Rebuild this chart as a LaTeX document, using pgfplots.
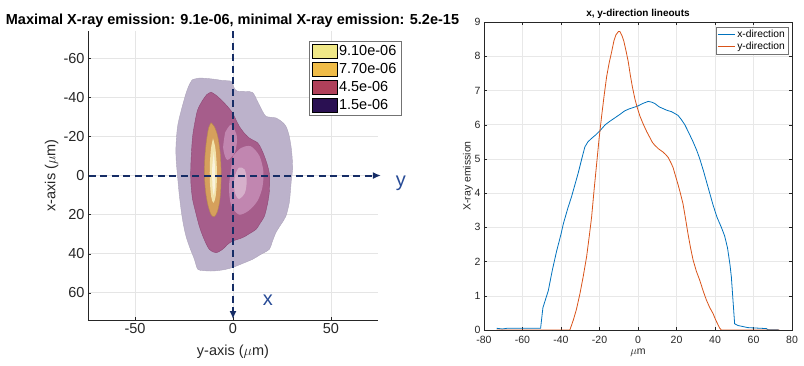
\documentclass[border=0pt]{standalone}
\usepackage{fontspec}
\setmainfont{Liberation Sans}
\usepackage{pgfplots}
\pgfplotsset{compat=1.18}
\usetikzlibrary{arrows.meta}
\definecolor{lgyel}{RGB}{240,232,135}
\definecolor{lgora}{RGB}{240,188,72}
\definecolor{lgred}{RGB}{176,64,90}
\definecolor{lgpur}{RGB}{42,16,82}
\definecolor{lav}{RGB}{188,178,203}
\definecolor{mag}{RGB}{166,93,139}
\definecolor{magd}{RGB}{142,72,116}
\definecolor{pinkhl}{RGB}{228,185,222}
\definecolor{blob}{RGB}{214,160,92}
\definecolor{core}{RGB}{242,226,170}
\definecolor{navy}{RGB}{22,45,102}
\definecolor{lblue}{RGB}{40,75,150}
\definecolor{mblue}{RGB}{0,114,189}
\definecolor{morange}{RGB}{217,83,25}
\definecolor{axgray}{RGB}{38,38,38}
\begin{document}
\begin{tikzpicture}[x=1pt,y=1pt]
\path[use as bounding box] (0,0) rectangle (804,365);
% ---------------- left panel ----------------
\begin{axis}[
  at={(233pt,189.5pt)}, anchor=center,
  scale only axis, width=290pt, height=289pt,
  xmin=-74, xmax=74, ymin=-74, ymax=74, y dir=reverse,
  clip=false,
  axis x line*=bottom, axis y line*=left,
  axis line style={-, axgray},
  xtick={-50,0,50}, ytick={-60,-40,-20,0,20,40,60},
  tick align=inside, major tick length=3pt,
  tick style={axgray},
  grid=major, grid style={black!10, line width=0.4pt},
  /pgf/number format/assume math mode=true,
  ticklabel style={font=\fontsize{14.5}{17}\selectfont, text=axgray},
  xlabel={y-axis ($\mu$m)}, ylabel={x-axis ($\mu$m)},
  every axis x label/.style={at={(axis description cs:0.5,-0.11)}, anchor=center, font=\fontsize{14.5}{17}\selectfont, text=axgray},
  every axis y label/.style={at={(axis description cs:-0.125,0.5)}, anchor=center, rotate=90, font=\fontsize{14.5}{17}\selectfont, text=axgray},
  legend style={at={(axis description cs:0.762,0.965)}, anchor=north west,
    font=\fontsize{14.5}{17}\selectfont, draw=black!55, inner sep=2.5pt,
    row sep=2.2pt},
  legend cell align=left,
  legend image code/.code={\fill[#1] (0pt,-7pt) rectangle (25pt,7pt);},
]
\addplot[fill=lav, draw=lav!92!black, smooth, forget plot] coordinates {
(-20.8,-49) (-17.2,-49.9) (-10.4,-49.4) (-5,-48.6) (-1,-48.2) (0.5,-45) (2,-43.3) (6.6,-43) (10,-42.5)
(12.5,-38) (15,-33) (16.8,-30.3) (19.5,-29.8) (21.9,-29.5) (25,-27.5) (27,-25.2)
(28.5,-21) (29.6,-15) (30.2,-9) (30.4,-3) (29.8,2) (29.3,8) (28.7,14) (27,20.8)
(24.5,25) (22,29) (20,34) (18.5,37.8) (14,40.5) (10,42.9) (5,45) (-0.2,47.1)
(-5,48.3) (-10.4,48.9) (-15,48.7) (-18,48) (-19.7,42.9) (-22,37) (-24,31) (-25.5,24)
(-26.5,17.4) (-27.5,9) (-28.3,0.3) (-29,-8) (-29.1,-15) (-28.3,-25) (-26.5,-33)
(-24,-42) (-22.3,-46.5) (-20.8,-49)} -- cycle;
\addplot[fill=mag, draw=magd, smooth, forget plot] coordinates {
(-11.2,-42.7) (-8.5,-41) (-5.3,-38) (-2.5,-35) (-0.2,-32) (1.5,-28.5) (3.2,-25.2) (5.5,-22) (8.3,-19.2)
(12.6,-16.7) (14.5,-13.5) (16,-9.9) (17.5,-5.5) (18.5,-1.4) (18.7,2) (18.5,8.8) (17.5,15) (16,20.8)
(13.5,25) (11.7,27.6) (8,30) (4.9,31.8) (-0.2,33.6) (-3,35.5) (-5.3,37.8) (-8.7,39.5)
(-12.1,37.8) (-15,32) (-17.2,25.9) (-19,19) (-20.6,12.3) (-21.4,5) (-21.6,-1.4) (-21.3,-10)
(-20.6,-20) (-19.3,-28) (-18,-33.7) (-15.5,-38.5) (-13.3,-41.5) (-11.2,-42.7)} -- cycle;
% pinkish highlights on the inner surface
\addplot[fill=pinkhl, fill opacity=0.45, draw=none, smooth, forget plot] coordinates {
(0,-10) (4,-14) (9,-15) (13.5,-10) (15.5,-2) (15,6) (12.5,13) (8,18) (3,20) (-1,15) (-2,5) (0,-10)} -- cycle;
\addplot[fill=pinkhl, fill opacity=0.45, draw=none, smooth, forget plot] coordinates {
(-4,-22) (-1,-26) (2,-20) (1,-12) (-3,-8) (-5,-14) (-4,-22)} -- cycle;
\addplot[fill=white, fill opacity=0.35, draw=none, smooth, forget plot] coordinates {
(1,0) (3,-4) (6,-3) (7,3) (6,9) (3,12) (1,9) (0.5,4) (1,0)} -- cycle;
\addplot[fill=blob, draw=blob!85!black, smooth, forget plot] coordinates {
(-11.2,-27) (-9.5,-25) (-7.8,-20) (-6.6,-12) (-6.1,-3) (-6.2,6) (-6.8,13) (-8,18.5) (-9.5,21)
(-11.2,20) (-12.8,15) (-14,8) (-14.6,-1) (-14.3,-10) (-13.5,-18) (-12.4,-24.5) (-11.2,-27)} -- cycle;
\addplot[fill=core, draw=none, smooth, forget plot] coordinates {
(-10.2,-19) (-9,-14) (-8.3,-5) (-8.3,4) (-8.9,11) (-10,14) (-11.1,11) (-11.8,3) (-11.8,-6)
(-11.2,-14) (-10.2,-19)} -- cycle;
\addplot[fill=white, fill opacity=0.6, draw=none, smooth, forget plot] coordinates {
(-9.8,-12) (-9.2,-4) (-9.2,5) (-9.8,10) (-10.5,5) (-10.6,-4) (-9.8,-12)} -- cycle;
% dashed direction arrows
\addplot[draw=navy, line width=2pt, dash pattern=on 7pt off 4.5pt, -{Latex[length=8pt,width=7pt]}, forget plot]
  coordinates {(0,-74) (0,73.5)};
\addplot[draw=navy, line width=2pt, dash pattern=on 7pt off 4.5pt, -{Latex[length=8pt,width=7pt]}, forget plot]
  coordinates {(-73.5,0.01) (75.5,0.01)};
\node[anchor=base west, text=lblue, font=\fontsize{20}{22}\selectfont] at (axis cs:81.3,5.6) {y};
\node[anchor=base west, text=lblue, font=\fontsize{20}{22}\selectfont] at (axis cs:13.4,66.7) {x};
% legend
\addlegendimage{fill=lgyel}\addlegendentry{9.10e-06}
\addlegendimage{fill=lgora}\addlegendentry{7.70e-06}
\addlegendimage{fill=lgred}\addlegendentry{4.5e-06}
\addlegendimage{fill=lgpur}\addlegendentry{1.5e-06}
\end{axis}
\node[font=\bfseries\fontsize{14.5}{17}\selectfont, text=black] at (232.5,344) {Maximal X-ray emission: 9.1e-06, minimal X-ray emission: 5.2e-15};
% ---------------- right panel ----------------
\begin{axis}[
  at={(638pt,189pt)}, anchor=center,
  scale only axis, width=308pt, height=308pt,
  xmin=-80, xmax=80, ymin=0, ymax=9,
  xtick={-80,-60,...,80}, ytick={0,1,...,9},
  axis line style={axgray, line width=0.5pt},
  tick align=inside, major tick length=3pt, tick style={axgray},
  grid=major, grid style={black!9, line width=0.4pt},
  /pgf/number format/assume math mode=true,
  ticklabel style={font=\fontsize{10.5}{12}\selectfont, text=axgray},
  xticklabel style={yshift=-2.5pt},
  xlabel={$\mu$m}, ylabel={X-ray emission},
  every axis x label/.style={at={(axis description cs:0.5,-0.073)}, anchor=center, font=\fontsize{10.5}{12}\selectfont, text=axgray},
  every axis y label/.style={at={(axis description cs:-0.052,0.5)}, anchor=center, rotate=90, font=\fontsize{10.5}{12}\selectfont, text=axgray},
  legend style={at={(axis description cs:0.987,0.984)}, anchor=north east,
    font=\fontsize{10.3}{11}\selectfont, draw=black!55, inner sep=1pt, row sep=-1pt},
  legend cell align=left,
  legend image code/.code={\draw[#1] (0pt,0pt) -- (17pt,0pt);},
]
\addplot[mblue, line width=0.8pt] coordinates {
(-73.4,0.05) (-70.5,0.03) (-68,0.05) (-60,0.05) (-50.6,0.05) (-49.4,0.65) (-46.6,1.15) (-44.5,1.75)
(-42.3,2.3) (-40,2.8) (-38.8,3.1) (-36.5,3.55) (-34.5,3.9) (-32.5,4.3) (-31,4.6) (-29,5.05)
(-27.6,5.35) (-26,5.5) (-24.1,5.6) (-22,5.7) (-19.8,5.82) (-17,6.0) (-14.6,6.1) (-12,6.2)
(-9.4,6.3) (-7,6.4) (-5.1,6.45) (-2.5,6.5) (0.1,6.55) (2.5,6.62) (5.3,6.68) (7,6.66) (8.7,6.62)
(11,6.52) (13,6.47) (15,6.42) (17.4,6.38) (19,6.33) (20.8,6.27) (22.5,6.15) (24.3,6.0)
(26.5,5.75) (28.6,5.5) (30.5,5.25) (32.1,5.0) (34,4.65) (35.5,4.35) (37.5,3.95) (39,3.65)
(41,3.3) (43.3,3.0) (45,2.75) (46.5,2.4) (47.8,1.9) (48.5,1.55) (49.3,0.9) (50.2,0.18)
(52,0.13) (54.6,0.1) (57,0.07) (60,0.06) (64,0.05) (66.7,0.04) (67.5,0.01) (73,0.01)};
\addlegendentry{x-direction}
\addplot[morange, line width=0.8pt] coordinates {
(-73.4,0) (-60,0) (-50,0) (-40,0) (-35.4,0) (-33.6,0.29) (-32,0.6) (-30.2,1.05) (-28.5,1.55)
(-26.7,2.14) (-25.3,2.75) (-24.1,3.3) (-22.8,4.1) (-21.5,4.85) (-20.2,5.6) (-18.9,6.25)
(-17.6,6.85) (-16.3,7.4) (-15,7.8) (-13.8,8.1) (-12.5,8.45) (-11.5,8.62) (-10.2,8.72)
(-9.4,8.72) (-8.3,8.6) (-7.4,8.45) (-6.2,8.15) (-5.1,7.85) (-4,7.45) (-2.9,7.1) (-1.6,6.75)
(-0.4,6.5) (1,6.25) (2.7,6.02) (4.5,5.8) (6.1,5.63) (7.5,5.48) (8.7,5.4) (10.5,5.3) (13,5.2)
(14.5,5.12) (15.7,5.04) (17,4.9) (18.2,4.75) (19.5,4.5) (20.8,4.25) (22,4.0) (23.4,3.68)
(24.7,3.25) (26,2.8) (27.3,2.4) (28.6,2.05) (30.3,1.72) (32.1,1.45) (33.8,1.15) (35.5,0.88)
(37.3,0.65) (39,0.48) (40.3,0.3) (41.6,0.15) (42.5,0.05) (43.3,0) (50,0) (60,0) (73.4,0)};
\addlegendentry{y-direction}
\node[anchor=south west, inner sep=0pt, text=axgray, font=\fontsize{10.5}{12}\selectfont] at (axis description cs:0.003,1.01) {×10\textsuperscript{-6}};
\end{axis}
\node[font=\bfseries\fontsize{10}{12}\selectfont, text=black] at (638,351) {x, y-direction lineouts};
\end{tikzpicture}
\end{document}
